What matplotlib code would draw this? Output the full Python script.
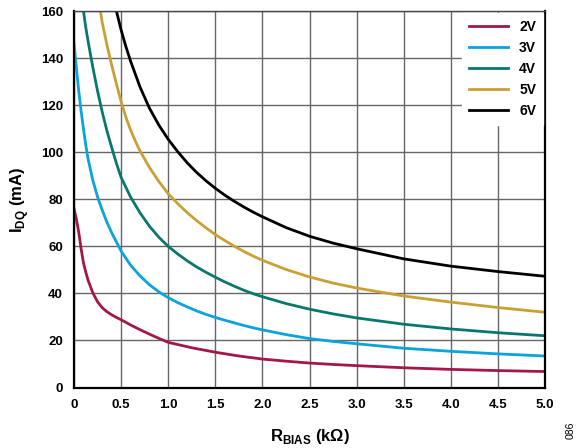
import matplotlib.pyplot as plt

plt.rcParams['font.family'] = ['Liberation Sans', 'DejaVu Sans']
plt.rcParams['font.weight'] = 'bold'
plt.rcParams['mathtext.fontset'] = 'custom'
plt.rcParams['mathtext.rm'] = 'Liberation Sans:bold'
plt.rcParams['mathtext.bf'] = 'Liberation Sans:bold'

# R_BIAS (kOhm) and I_DQ (mA), one pair of lists per supply
r_2v = [0, 0.025, 0.05, 0.075, 0.1, 0.125, 0.15, 0.2, 0.25, 0.3, 0.35, 0.4, 0.45,
        0.5, 0.6, 0.7, 0.8, 0.9, 1.0, 1.25, 1.5, 1.75, 2.0, 2.25, 2.5, 2.75, 3.0,
        3.5, 4.0, 4.5, 5.0]
i_2v = [76, 71.5, 66, 59, 53, 49, 45.5, 40.2, 36.4, 33.9, 32.2, 30.9, 29.8,
        28.8, 26.6, 24.6, 22.7, 20.9, 19.2, 16.9, 15.0, 13.4, 12.1, 11.2, 10.4,
        9.8, 9.3, 8.4, 7.7, 7.2, 6.8]

r_3v = [0, 0.025, 0.05, 0.075, 0.1, 0.125, 0.15, 0.2, 0.25, 0.3, 0.35, 0.4,
        0.5, 0.6, 0.7, 0.8, 0.9, 1.0, 1.1, 1.2, 1.3, 1.4, 1.5, 1.6, 1.7, 1.8,
        1.9, 2.0, 2.25, 2.5, 2.75, 3.0, 3.5, 4.0, 4.5, 5.0]
i_3v = [146, 136, 126, 117.5, 110, 103, 97, 88, 81, 75.3, 70.2, 65.8,
        58, 52, 47.5, 43.7, 40.7, 38.2, 36.1, 34.3, 32.6, 31.1, 29.8, 28.6,
        27.5, 26.4, 25.4, 24.5, 22.5, 20.8, 19.6, 18.6, 16.7, 15.4, 14.3, 13.4]

r_4v = [0.1, 0.125, 0.15, 0.2, 0.25, 0.3, 0.35, 0.4, 0.45, 0.5, 0.6, 0.7, 0.8,
        0.9, 1.0, 1.1, 1.2, 1.3, 1.4, 1.5, 1.6, 1.7, 1.8, 1.9, 2.0, 2.25, 2.5,
        2.75, 3.0, 3.5, 4.0, 4.5, 5.0]
i_4v = [160, 153, 147, 136, 126, 117, 109, 102, 95.3, 89.3, 81, 74.3, 68.6,
        63.9, 60, 56.8, 53.9, 51.3, 49.0, 46.9, 44.9, 43.1, 41.4, 39.9, 38.6,
        35.7, 33.3, 31.3, 29.6, 26.9, 24.9, 23.3, 22.0]

r_5v = [0.28, 0.3, 0.35, 0.4, 0.45, 0.5, 0.55, 0.6, 0.65, 0.7, 0.8, 0.9, 1.0,
        1.1, 1.2, 1.3, 1.4, 1.5, 1.6, 1.7, 1.8, 1.9, 2.0, 2.25, 2.5, 2.75, 3.0,
        3.5, 4.0, 4.5, 5.0]
i_5v = [160, 155, 145.5, 137, 129, 121.5, 115, 109.5, 104.8, 100.6, 93.6, 87.6,
        82.4, 78.2, 74.4, 71.0, 67.9, 65.0, 62.5, 60.1, 57.9, 55.9, 54.1, 50.2,
        47, 44.4, 42.3, 38.9, 36.3, 34, 32]

r_6v = [0.45, 0.5, 0.55, 0.6, 0.7, 0.8, 0.9, 1.0, 1.1, 1.2, 1.3, 1.4, 1.5, 1.6,
        1.7, 1.8, 1.9, 2.0, 2.25, 2.5, 2.75, 3.0, 3.5, 4.0, 4.5, 5.0]
i_6v = [160, 152, 145, 138.8, 127.8, 118.8, 111.6, 105.5, 100.3, 95.6, 91.5,
        87.9, 84.7, 81.8, 79.2, 76.8, 74.6, 72.6, 68, 64.3, 61.4, 59, 54.7,
        51.6, 49.3, 47.3]

labels = ['2V', '3V', '4V', '5V', '6V']
colors = ['#A3174B', '#0AA3DD', '#08786C', '#C9A035', '#000000']
x_ticks = [0, 0.5, 1.0, 1.5, 2.0, 2.5, 3.0, 3.5, 4.0, 4.5, 5.0]
x_tick_labels = ['0', '0.5', '1.0', '1.5', '2.0', '2.5', '3.0', '3.5', '4.0', '4.5', '5.0']
y_ticks = [0, 20, 40, 60, 80, 100, 120, 140, 160]

fig = plt.figure(figsize=(5.83, 4.48), dpi=100)
ax = fig.add_axes([0.127, 0.135, 0.808, 0.84])

series = [(r_2v, i_2v), (r_3v, i_3v), (r_4v, i_4v), (r_5v, i_5v), (r_6v, i_6v)]
for (r, i), lab, col in zip(series, labels, colors):
    ax.plot(r, i, color=col, lw=2.0, label=lab, solid_joinstyle='round')

ax.set_xlim(0, 5)
ax.set_ylim(0, 160)
ax.set_xticks(x_ticks)
ax.set_xticklabels(x_tick_labels)
ax.set_yticks(y_ticks)
ax.tick_params(length=0, pad=8, labelsize=9.5)
ax.grid(True, color='#666666', lw=1.0)
ax.set_axisbelow(True)

for side in ['left', 'bottom', 'right']:
    ax.spines[side].set_linewidth(1.6)
    ax.spines[side].set_color('black')
ax.spines['top'].set_linewidth(1.0)
ax.spines['top'].set_color('#444444')

ax.set_xlabel(r'R$_{\mathrm{BIAS}}$ (k$\Omega$)', fontsize=12, fontweight='bold', labelpad=12)
ax.set_ylabel(r'I$_{\mathrm{DQ}}$ (mA)', fontsize=12, fontweight='bold', labelpad=7)

leg = ax.legend(loc='upper right', fontsize=10, handlelength=2.8, labelspacing=0.5,
                borderaxespad=0.15, fancybox=False, framealpha=1,
                edgecolor='white', facecolor='white', borderpad=0.5)
for t in leg.get_texts():
    t.set_fontweight('bold')

fig.text(0.978, 0.02, '086', rotation=90, fontsize=7.5, fontweight='normal',
         ha='center', va='bottom')

fig.savefig('out.png', dpi=100)
